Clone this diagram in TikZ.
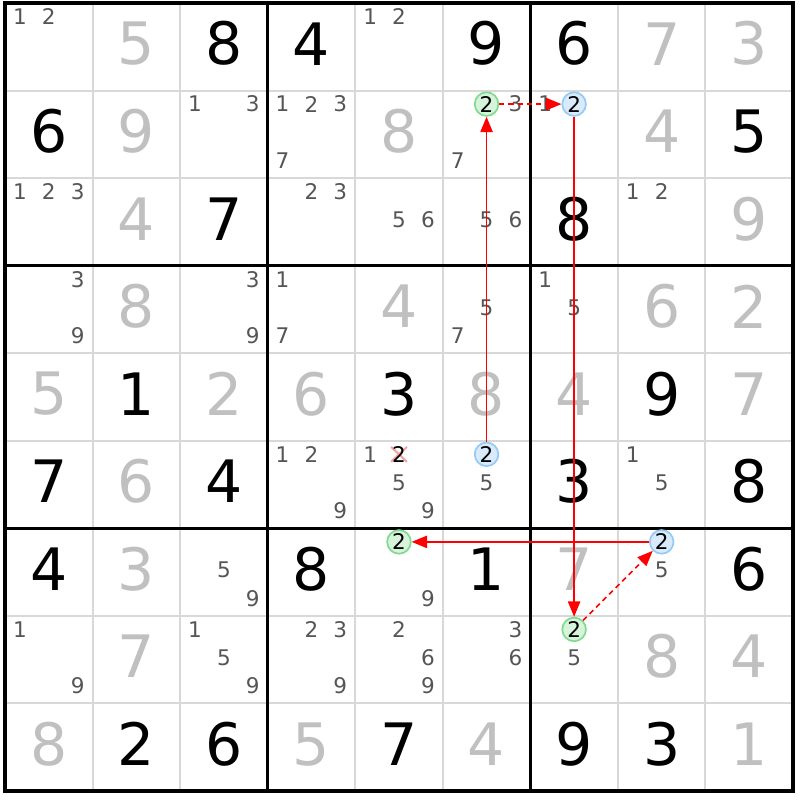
\documentclass[tikz,border=0pt]{standalone}
\usepackage{fontspec}
\setmainfont{DejaVu Sans}
\usetikzlibrary{arrows.meta}

\definecolor{solvedgray}{HTML}{C0C0C0}
\definecolor{candgray}{HTML}{555555}
\definecolor{gridgray}{HTML}{D8D8D8}
\definecolor{markgreen}{HTML}{80DA90}
\definecolor{markgreenfill}{HTML}{D6F4DA}
\definecolor{markblue}{HTML}{96CAF4}
\definecolor{markbluefill}{HTML}{D8EAFB}
\definecolor{crosspink}{HTML}{F4A0A0}

\tikzset{
  given/.style={font=\fontsize{19}{19}\selectfont, text=black, inner sep=0pt},
  solved/.style={given, text=solvedgray},
  cand/.style={font=\fontsize{7}{7}\selectfont, text=candgray, inner sep=0pt},
  greenmark/.style={cand, text=black, circle, draw=markgreen, fill=markgreenfill, line width=0.55pt, minimum size=0.27cm},
  bluemark/.style={cand, text=black, circle, draw=markblue, fill=markbluefill, line width=0.55pt, minimum size=0.27cm},
  thinline/.style={gridgray, line width=0.65pt},
  thickline/.style={black, line width=1.1pt},
  strongarrow/.style={red, line width=0.5pt, -{Triangle[length=5pt,width=4pt]}},
  weakarrow/.style={strongarrow, dash pattern=on 1.7pt off 1.3pt},
  crossmark/.style={crosspink, line width=0.65pt}
}

\begin{document}
\begin{tikzpicture}
        \useasboundingbox (-0.057,0.034) rectangle (9.08,-9.103);

        % grid
        \foreach \i in {1,2,4,5,7,8} {
                \draw[thinline] (\i,0) -- (\i,-9);
                \draw[thinline] (0,-\i) -- (9,-\i);
        }
        \foreach \i in {3,6} {
                \draw[thickline] (\i,0) -- (\i,-9);
                \draw[thickline] (0,-\i) -- (9,-\i);
        }
        \draw[thickline] (0,0) rectangle (9,-9);

        % givens
        \foreach \r/\c/\d in {1/3/8, 1/4/4, 1/6/9, 1/7/6, 2/1/6, 2/9/5, 3/3/7, 3/7/8,
                5/2/1, 5/5/3, 5/8/9, 6/1/7, 6/3/4, 6/7/3, 6/9/8, 7/1/4, 7/4/8, 7/6/1,
                7/9/6, 9/2/2, 9/3/6, 9/5/7, 9/7/9, 9/8/3}
                \node[given] (N\r\c) at ({\c-0.5},{-\r+0.535}) {\d};

        % solved
        \foreach \r/\c/\d in {1/2/5, 1/8/7, 1/9/3, 2/2/9, 2/5/8, 2/8/4, 3/2/4, 3/9/9,
                4/2/8, 4/5/4, 4/8/6, 4/9/2, 5/1/5, 5/3/2, 5/4/6, 5/6/8, 5/7/4, 5/9/7,
                6/2/6, 7/2/3, 7/7/7, 8/2/7, 8/8/8, 8/9/4, 9/1/8, 9/4/5, 9/6/4, 9/9/1}
                \node[solved] (N\r\c) at ({\c-0.5},{-\r+0.535}) {\d};

        % candidates
        \foreach \r/\c/\d in {1/1/1, 1/1/2, 1/5/1, 1/5/2,
                2/3/1, 2/3/3, 2/4/1, 2/4/2, 2/4/3, 2/4/7, 2/6/3, 2/6/7, 2/7/1,
                3/1/1, 3/1/2, 3/1/3, 3/4/2, 3/4/3, 3/5/5, 3/5/6, 3/6/5, 3/6/6, 3/8/1, 3/8/2,
                4/1/3, 4/1/9, 4/3/3, 4/3/9, 4/4/1, 4/4/7, 4/6/5, 4/6/7, 4/7/1, 4/7/5,
                6/4/1, 6/4/2, 6/4/9, 6/5/1, 6/5/5, 6/5/9, 6/6/5, 6/8/1, 6/8/5,
                7/3/5, 7/3/9, 7/5/9, 7/8/5,
                8/1/1, 8/1/9, 8/3/1, 8/3/5, 8/3/9, 8/4/2, 8/4/3, 8/4/9,
                8/5/2, 8/5/6, 8/5/9, 8/6/3, 8/6/6, 8/7/5} {
                \pgfmathsetmacro\cx{\c-0.83+0.33*mod(\d-1,3)}
                \pgfmathsetmacro\cy{-\r+0.845-0.322*floor((\d-1)/3)}
                \node[cand] (C\r\c\d) at (\cx,\cy) {\d};
        }

        % eliminated candidate
        \coordinate (X65) at (4.5,-5.155);
        \draw[crossmark] ([shift={(-0.09,0.085)}]X65) -- ([shift={(0.09,-0.085)}]X65);
        \draw[crossmark] ([shift={(-0.09,-0.085)}]X65) -- ([shift={(0.09,0.085)}]X65);
        \node[cand, text=black] (C652) at (X65) {2};

        % chain
        \node[greenmark] (G26) at (5.5,-1.155) {2};
        \node[bluemark] (B27) at (6.5,-1.155) {2};
        \node[bluemark] (B66) at (5.5,-5.155) {2};
        \node[greenmark] (G75) at (4.5,-6.155) {2};
        \node[bluemark] (B78) at (7.5,-6.155) {2};
        \node[greenmark] (G87) at (6.5,-7.155) {2};

        \draw[strongarrow] (B66) -- (G26);
        \draw[weakarrow] (G26) -- (B27);
        \draw[strongarrow] (B27) -- (G87);
        \draw[weakarrow] (G87) -- (B78);
        \draw[strongarrow] (B78) -- (G75);
\end{tikzpicture}
\end{document}
